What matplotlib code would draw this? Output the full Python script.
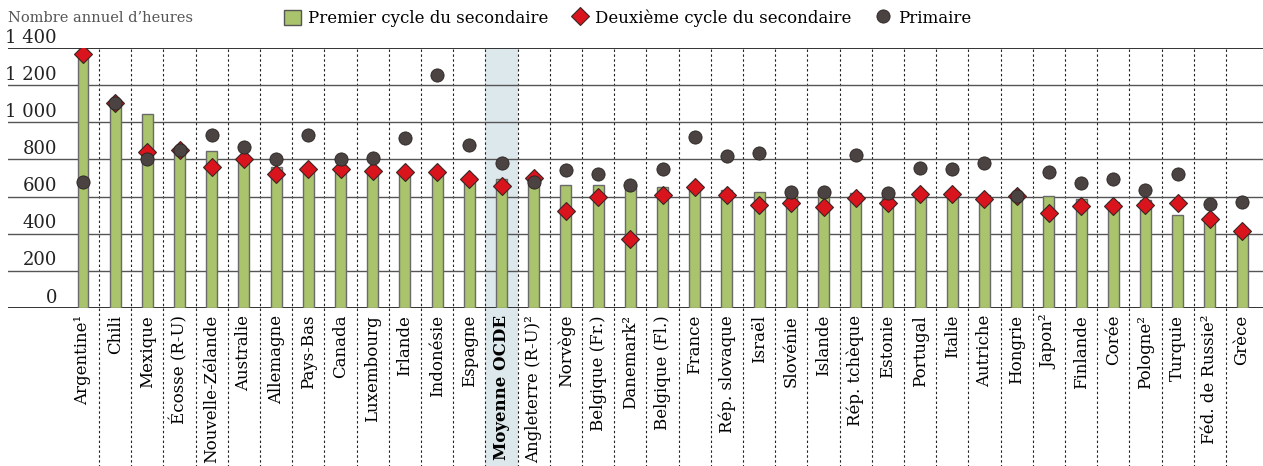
import matplotlib
matplotlib.use("Agg")
import matplotlib.pyplot as plt
import matplotlib.transforms as mtransforms
from matplotlib.lines import Line2D
from matplotlib.patches import Patch, Rectangle

countries = ['Argentine¹', 'Chili', 'Mexique', 'Écosse (R-U)', 'Nouvelle-Zélande',
             'Australie', 'Allemagne', 'Pays-Bas', 'Canada', 'Luxembourg', 'Irlande',
             'Indonésie', 'Espagne', 'Moyenne OCDE', 'Angleterre (R-U)²', 'Norvège',
             'Belgique (Fr.)', 'Danemark²', 'Belgique (Fl.)', 'France', 'Rép. slovaque',
             'Israël', 'Slovénie', 'Islande', 'Rép. tchèque', 'Estonie', 'Portugal',
             'Italie', 'Autriche', 'Hongrie', 'Japon²', 'Finlande', 'Corée', 'Pologne²',
             'Turquie', 'Féd. de Russie²', 'Grèce']
lower_sec = [1360, 1097, 1045, 853, 846, 798, 757, 750, 749, 739, 735, 733, 712, 692,
             703, 662, 662, 660, 651, 646, 633, 627, 627, 624, 619, 620, 615, 615, 607,
             602, 601, 586, 573, 580, 502, 482, 415]
upper_sec = [1368, 1103, 841, 853, 759, 802, 719, 750, 749, 739, 733, 733, 694, 656,
             699, 522, 600, 369, 608, 649, 608, 557, 568, 545, 592, 565, 615, 615, 588,
             604, 511, 547, 547, 557, 568, 482, 417]
primary = [679, 1103, 800, 853, 934, 869, 805, 931, 802, 810, 916, 1255, 880, 782,
           681, 742, 722, 662, 749, 923, 819, 837, 627, 624, 826, 620, 755, 751, 780,
           604, 732, 674, 694, 633, 721, 561, 570]
y_ticks = [0, 200, 400, 600, 800, 1000, 1200, 1400]
highlight = 'Moyenne OCDE'

plt.rcParams['font.family'] = ['DejaVu Serif']
GREEN, RED, DARK = '#a9c46c', '#d9141c', '#4a4341'

fig = plt.figure(figsize=(12.63, 4.66), dpi=100)
ax = fig.add_axes([0.0063, 0.339, 0.9937, 0.558])
x = list(range(len(countries)))
ax.set_xlim(-2.33, len(countries) - 0.35)
ax.set_ylim(0, 1400)

# shaded OECD-average column and dashed separators run down through the labels
below = mtransforms.blended_transform_factory(ax.transData, ax.transAxes)
hx = countries.index(highlight)
ax.add_patch(Rectangle((hx - 0.5, -0.62), 1, 1.62, transform=below, color='#dce8eb',
                       lw=0, zorder=0, clip_on=False))
for i in x[:-1]:
    ax.plot([i + 0.5, i + 0.5], [-0.62, 1], transform=below, color='#222222', lw=0.8,
            ls=(0, (2.2, 2.2)), zorder=1, clip_on=False)

ylab = mtransforms.blended_transform_factory(ax.transAxes, ax.transData)
for v in y_ticks:
    edge = v in (0, 1400)
    ax.axhline(v, color='#222222' if edge else '#555555', lw=1.3 if edge else 1.0, zorder=1)
    ax.text(0.039, v + 8, f"{v:,}".replace(',', ' '), transform=ylab, ha='right',
            va='bottom', fontsize=13, color='#222222')

ax.bar(x, lower_sec, width=0.34, color=GREEN, edgecolor='#6a6a6a', lw=1, zorder=2)
ax.plot(x, upper_sec, 'D', ms=9, color=RED, mec='#3a2626', mew=0.8, zorder=3)
ax.plot(x, primary, 'o', ms=9.5, color=DARK, mec='#2a2422', mew=0.6, zorder=4)

ax.set_xticks(x)
ax.set_xticklabels(countries, rotation=90, va='top', ha='center', fontsize=12)
ax.get_xticklabels()[hx].set_fontweight('bold')
ax.tick_params(axis='x', length=0, pad=5)
ax.set_yticks([])
for s in ax.spines.values():
    s.set_visible(False)

fig.text(0.0063, 0.962, 'Nombre annuel d’heures', fontsize=10.5, color='#555555',
         va='center', ha='left')
handles = [Patch(facecolor=GREEN, edgecolor='#555555', lw=1),
           Line2D([], [], ls='', marker='D', ms=9, color=RED, mec='#3a2626', mew=0.8),
           Line2D([], [], ls='', marker='o', ms=9.5, color=DARK, mec='#2a2422', mew=0.6)]
fig.legend(handles, ['Premier cycle du secondaire', 'Deuxième cycle du secondaire', 'Primaire'],
           loc='center', bbox_to_anchor=(0.497, 0.961), ncol=3, frameon=False,
           fontsize=12, handlelength=1.0, handleheight=1.0, handletextpad=0.4,
           columnspacing=1.4)

fig.savefig('out.png', dpi=100)
